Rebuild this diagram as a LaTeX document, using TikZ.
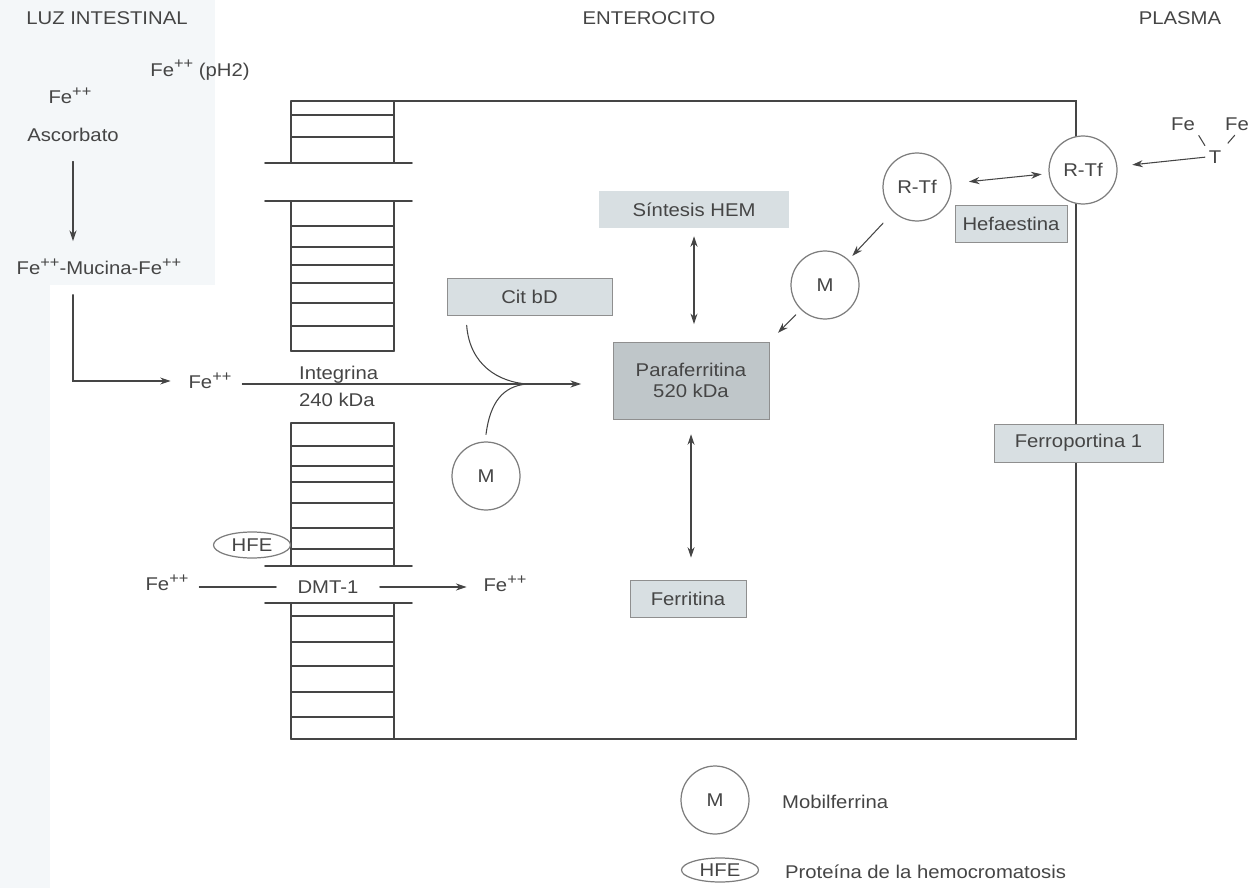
\documentclass[tikz,border=0pt]{standalone}
\usepackage{fontspec}
\setmainfont{Liberation Sans}[FakeStretch=1.1]
\usetikzlibrary{arrows.meta,shapes.geometric}
\definecolor{ink}{HTML}{454545}
\definecolor{boxfill}{HTML}{D8DFE2}
\definecolor{darkfill}{HTML}{BFC6C9}
\definecolor{tint}{HTML}{F4F7F9}
\newcommand\fepp{Fe\raisebox{0.75ex}{\fontsize{8.5}{9}\selectfont ++}}
\tikzset{
  lbl/.style={text=ink, font=\fontsize{10.5}{12}\selectfont, inner sep=1pt},
  arr/.style={draw=ink, line width=0.6pt, -{Stealth[length=6pt,width=4pt]}},
  darr/.style={arr, {Stealth[length=6pt,width=4pt]}-{Stealth[length=6pt,width=4pt]}},
  ln/.style={draw=ink, line width=0.6pt},
  wall/.style={draw=ink, line width=1.1pt},
  box/.style={lbl, draw=ink!60, fill=boxfill, minimum height=0.74cm},
  mol/.style={lbl, draw=ink!70, fill=white, circle, minimum size=1.36cm, line width=0.7pt},
  hfeshape/.style={lbl, draw=ink!70, fill=white, ellipse, minimum width=1.54cm, minimum height=0.52cm, inner sep=0pt, line width=0.7pt},
}
\begin{document}
\begin{tikzpicture}[x=0.02cm,y=-0.02cm,line cap=round]
\useasboundingbox (0,0) rectangle (1253,888);
% scan tint
\fill[tint] (0,0) rectangle (50,888);
\fill[tint] (0,0) rectangle (215,285);
% cell outline
\draw[wall] (291,101) -- (1076,101) -- (1076,739) -- (291,739);
% brush border
\foreach \a/\b in {101/163, 201/351, 423/566, 603/739}
  \draw[wall] (291,\a) -- (291,\b) (394,\a) -- (394,\b);
\foreach \y in {115,137,226,247,265,283,303,326,351,423,446,466,482,503,528,549,616,642,666,692,717}
  \draw[wall] (291,\y) -- (394,\y);
\foreach \y in {163,201,566,603}
  \draw[wall] (265,\y) -- (412,\y);
% titles
\node[lbl] (luz) at (107,18) {LUZ INTESTINAL};
\node[lbl] (entero) at (649,18) {ENTEROCITO};
\node[lbl] (plasma) at (1180,18) {PLASMA};
% lumen
\node[lbl] (feph) at (200,70) {\fepp{} (pH2)};
\node[lbl] (fe) at (70,96) {\fepp};
\node[lbl] (asc) at (73,135) {Ascorbato};
\node[lbl] (mucina) at (99,267) {\fepp-Mucina-\fepp};
\node[lbl] (feint) at (210,381) {\fepp};
\draw[arr, shorten <=10pt, shorten >=9pt] (asc.south) -- (asc.south |- mucina.north);
\draw[arr, shorten <=10pt, shorten >=9pt] (asc.south |- mucina.south) |- (feint.west);
% boxes
\node[box, minimum width=3.3cm] (citbd) at (529.5,296.5) {Cit bD};
\node[box, fill=darkfill, minimum width=3.12cm, minimum height=1.54cm, align=center] (paraf) at (691,380.5) {Paraferritina\\520 kDa};
\node[box, draw=none, minimum width=3.8cm] (hem) at (694,209.5) {Síntesis HEM};
\node[box, minimum width=2.32cm] (ferrit) at (688,598.5) {Ferritina};
\node[box, minimum width=2.24cm] (hefa) at (1011,223.5) {Hefaestina};
\node[box, minimum width=3.38cm, minimum height=0.76cm] (ferrop) at (1078.5,443) {Ferroportina 1};
% integrina
\node[lbl, anchor=west] (integ) at (297,375) {Integrina};
\node[lbl, anchor=west] (kda) at (297,400) {240 kDa};
\coordinate (join) at (527,384);
\draw[arr, shorten <=5pt, shorten >=18pt] (feint.east |- join) -- (join -| paraf.west);
\node[mol] (mcit) at (486,476) {M};
\draw[ln] (citbd.south west) ++(20,10) .. controls +(3,40) and +(-28,-2) .. (join);
\draw[ln] (mcit.north) ++(0,-7) .. controls +(4,-32) and +(-24,2) .. (join);
% paraferritina links
\draw[darr, shorten <=4.5pt, shorten >=10pt] (hem.south) -- (hem.south |- paraf.north);
\draw[darr, shorten <=8.5pt, shorten >=12.5pt] (paraf.south) -- (paraf.south |- ferrit.north);
% transferrin side
\node[mol] (mtf) at (825,285) {M};
\node[mol] (rtfa) at (917,187) {R-Tf};
\node[mol] (rtfb) at (1083,170) {R-Tf};
\node[lbl] (tt) at (1215,157) {T};
\node[lbl] (fea) at (1183,124) {Fe};
\node[lbl] (feb) at (1237,124) {Fe};
\draw[ln, shorten <=2pt, shorten >=2pt] (fea.south east) -- (tt.north west);
\draw[ln, shorten <=2pt, shorten >=4pt] (feb.south) -- (tt.north east);
\draw[arr, shorten <=1pt, shorten >=8.5pt] (tt.west) -- (rtfb);
\draw[darr, shorten <=10pt, shorten >=4pt] (rtfa) -- (rtfb);
\draw[arr, shorten <=8.5pt, shorten >=3pt] (rtfa) -- (mtf);
\draw[arr, shorten <=4pt, shorten >=7pt] (mtf) -- (paraf.north east);
% DMT-1
\node[hfeshape] (hfe) at (252,545) {HFE};
\node[lbl] (fedin) at (167,583) {\fepp};
\node[lbl] (dmt) at (328,587) {DMT-1};
\node[lbl] (fedout) at (505,584) {\fepp};
\draw[ln, shorten <=11pt, shorten >=5pt] (dmt.west) -- (dmt.west -| fedin.east);
\draw[arr, shorten <=11pt, shorten >=8.5pt] (dmt.east) -- (dmt.east -| fedout.west);
% legend
\node[mol] (legm) at (715,800) {M};
\node[lbl, anchor=west] (legmtxt) at (780,802) {Mobilferrina};
\node[hfeshape, minimum height=0.48cm] (leghfe) at (720,870) {HFE};
\node[lbl, anchor=west] (leghfetxt) at (783,872) {Proteína de la hemocromatosis};
\end{tikzpicture}
\end{document}
